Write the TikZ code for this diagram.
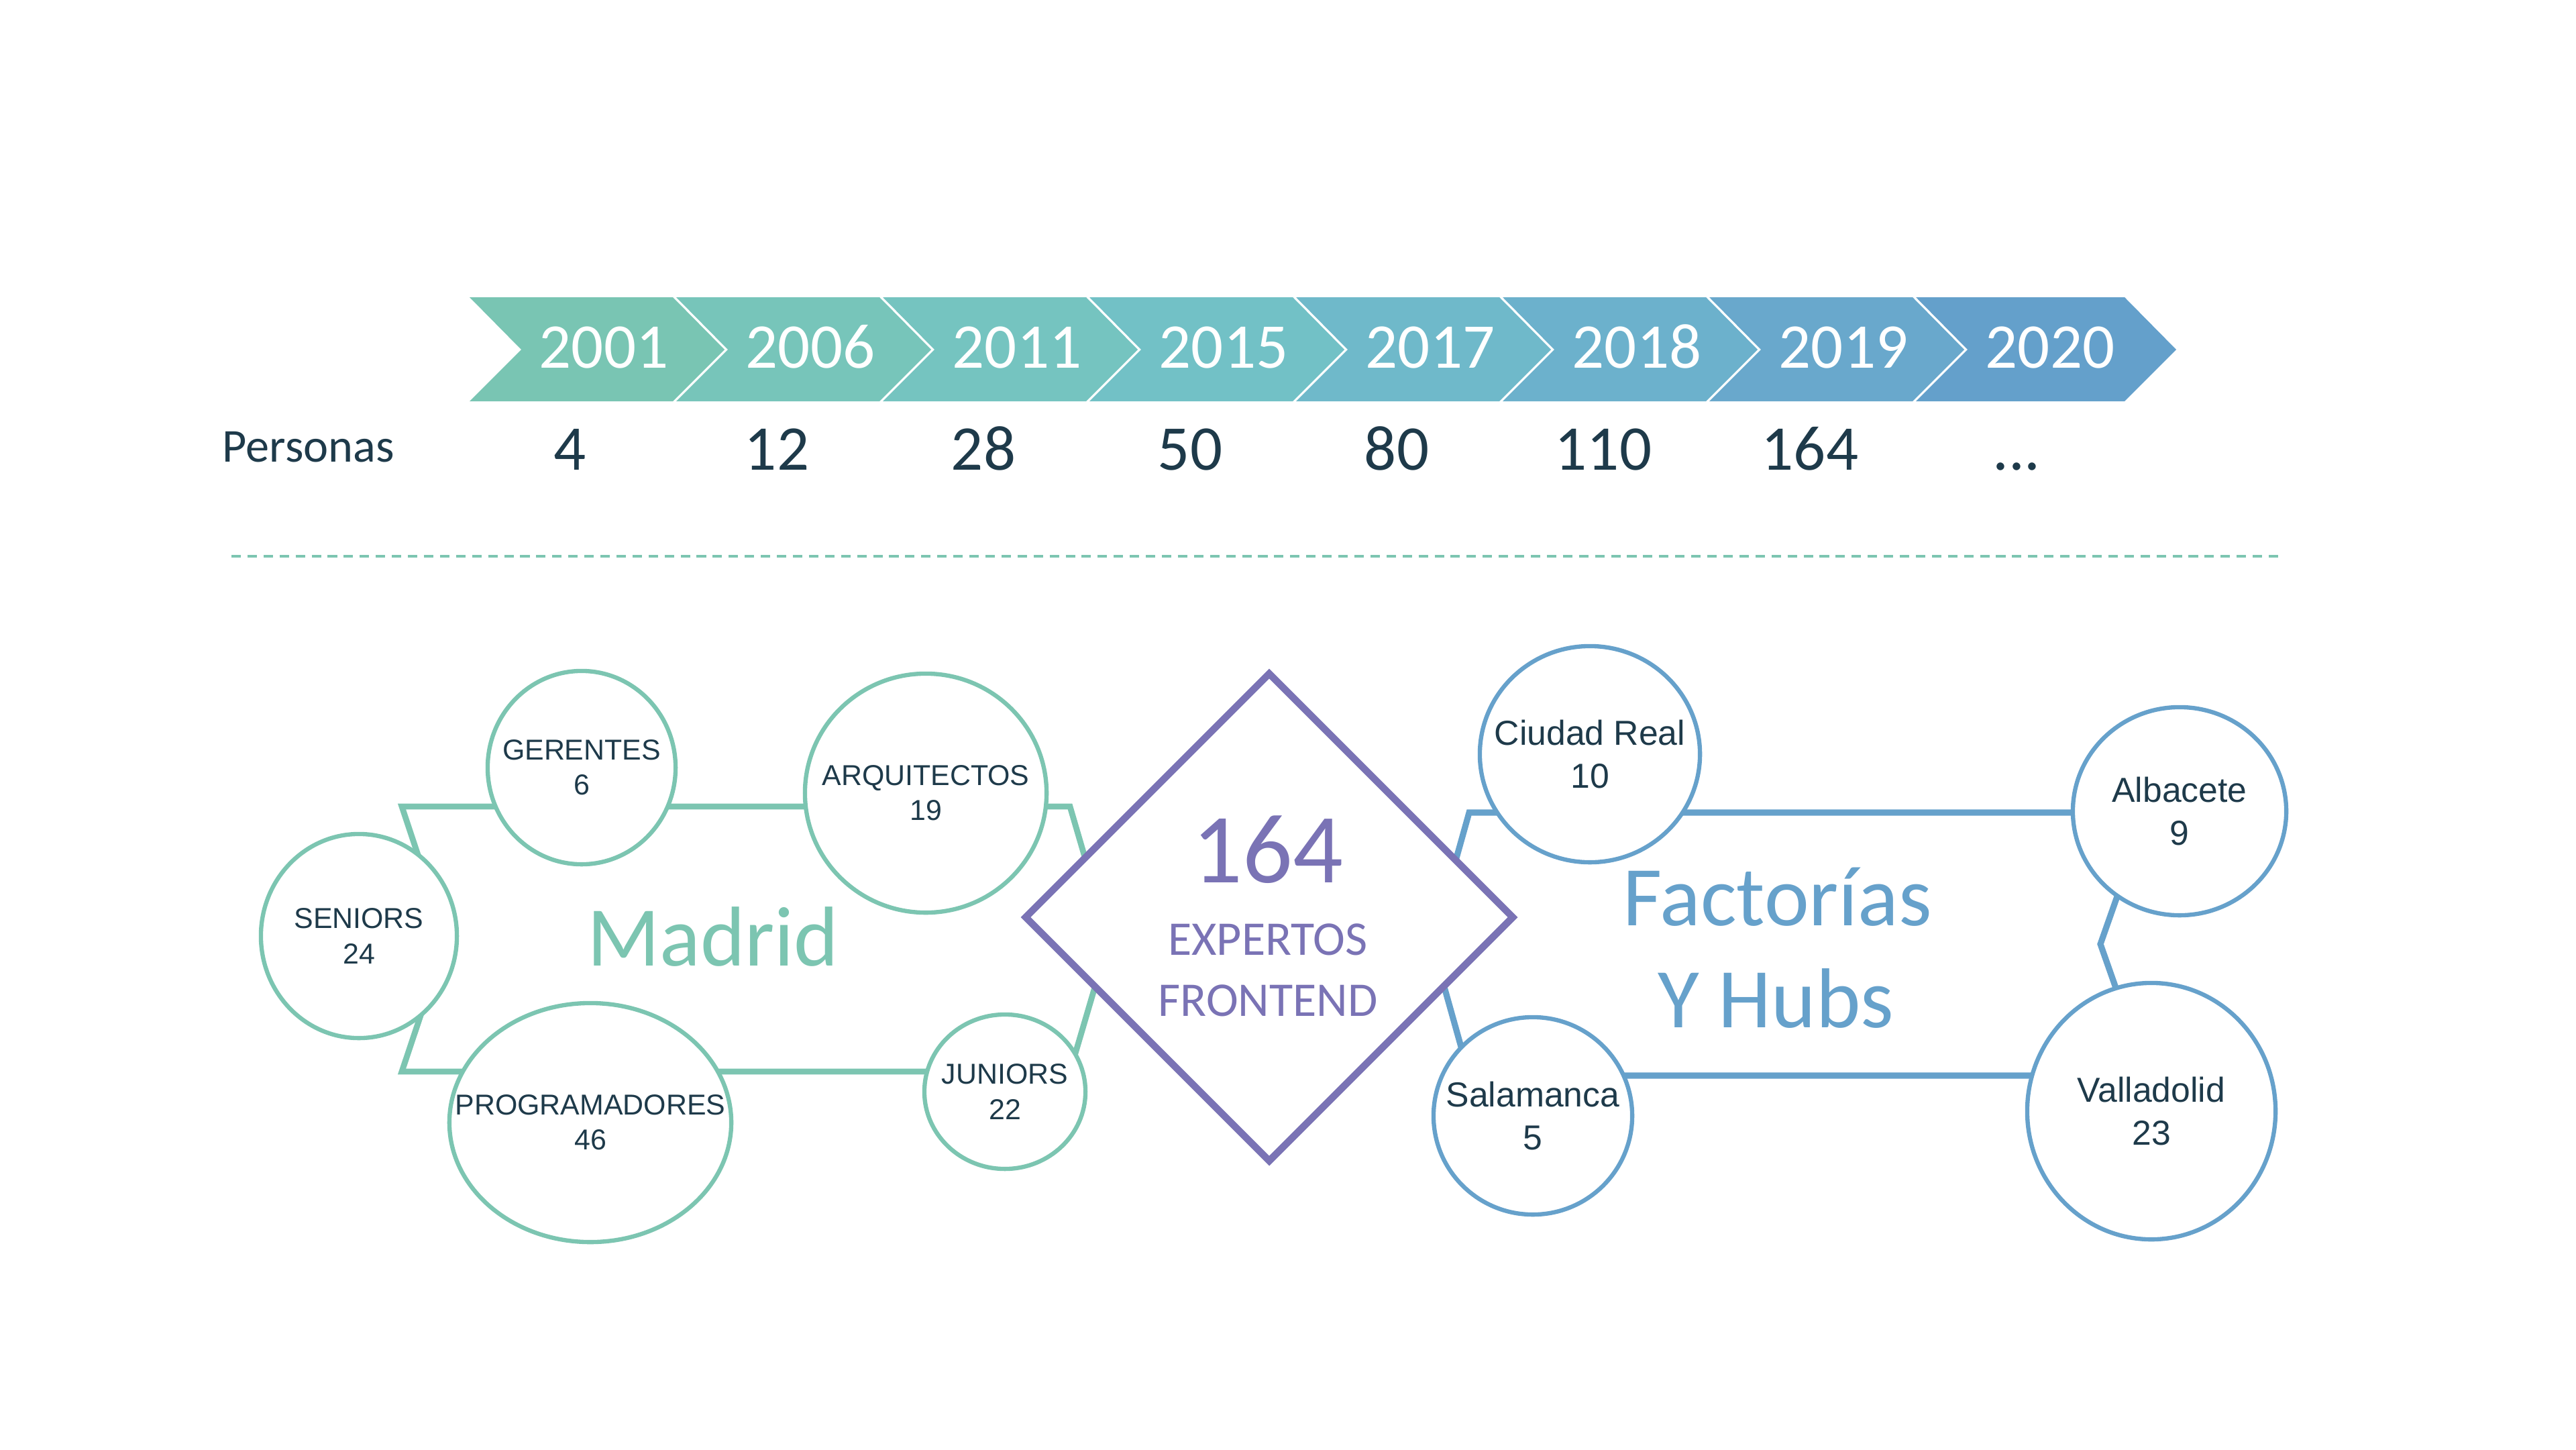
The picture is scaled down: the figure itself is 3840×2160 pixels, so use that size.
\documentclass[tikz,border=0pt]{standalone}
\usepackage{fontspec}
\setmainfont{Carlito}
\newfontfamily\arialfont{Liberation Sans}
\usetikzlibrary{shapes.geometric}
\definecolor{mteal}{HTML}{7CC5B1}
\definecolor{hblue}{HTML}{66A1CB}
\definecolor{purp}{HTML}{7A73B5}
\definecolor{navy}{HTML}{1E3A4A}
\definecolor{ch1}{RGB}{121,197,179}
\definecolor{ch2}{RGB}{119,197,186}
\definecolor{ch3}{RGB}{117,196,192}
\definecolor{ch4}{RGB}{114,193,198}
\definecolor{ch5}{RGB}{111,185,202}
\definecolor{ch6}{RGB}{108,177,204}
\definecolor{ch7}{RGB}{105,168,204}
\definecolor{ch8}{RGB}{100,160,203}
\begin{document}
\begin{tikzpicture}[x=0.01cm, y=-0.01cm,
  yearlbl/.style={text=white, font=\fontsize{27}{32}\selectfont, anchor=base, inner sep=0},
  numlbl/.style={text=navy, font=\fontsize{27}{32}\selectfont, anchor=base, inner sep=0},
  mshape/.style={draw=mteal, line width=2.5pt, line join=miter},
  hshape/.style={draw=hblue, line width=2.6pt, line join=miter},
  mcirc/.style={ellipse, draw=mteal, line width=1.8pt, fill=white, inner sep=0},
  hcirc/.style={ellipse, draw=hblue, line width=1.8pt, fill=white, inner sep=0},
  mtxt/.style={text=navy, font=\arialfont\fontsize{12.2}{14.8}\selectfont, align=center, inner sep=0},
  htxt/.style={text=navy, font=\arialfont\fontsize{14.7}{18.2}\selectfont, align=center, inner sep=0},
  septline/.style={draw=mteal, line width=1.1pt, dash pattern=on 4pt off 2.8pt},
]
\fill[white] (0,0) rectangle (3840,2160);
\useasboundingbox (0,0) rectangle (3840,2160);

% timeline chevrons
\foreach \i/\yr/\col/\w in {0/2001/ch1/303, 1/2006/ch2/303, 2/2011/ch3/303, 3/2015/ch4/303, 4/2017/ch5/303, 5/2018/ch6/303, 6/2019/ch7/303, 7/2020/ch8/311} {
  \pgfmathsetmacro{\L}{700+308*\i}
  \fill[\col] (\L,443) -- (\L+\w,443) -- (\L+\w+77,521) -- (\L+\w,598) -- (\L,598) -- (\L+77,521) -- cycle;
  \node[yearlbl] (yr\i) at (\L+200,548) {\yr};
}
\foreach \i/\num in {0/4, 1/12, 2/28, 3/50, 4/80, 5/110, 6/164} {
  \pgfmathsetmacro{\L}{700+308*\i}
  \node[numlbl] (n\i) at (\L+150,700) {\num};
}
\node[numlbl] (n7) at (3006,700) {...};
\node[text=navy, font=\fontsize{20}{24}\selectfont, anchor=base west, inner sep=0] (personas) at (331,688) {Personas};

% separator
\coordinate (sepL) at (345,829);
\coordinate (sepR) at (3398,829);
\draw[septline] (sepL) -- (sepR);

% Madrid shape
\draw[mshape] (599,1202) -- (1595,1202) -- (1653,1400) -- (1595,1597) -- (599,1597) -- (665,1400) -- cycle;
% Factorias shape
\draw[hshape] (2190,1211) -- (3200,1211) -- (3131,1407) -- (3200,1603) -- (2190,1603) -- (2135,1407) -- cycle;

% diamond
\node[diamond, draw=purp, line width=3pt, fill=white, minimum width=7.30cm, minimum height=7.30cm, aspect=1, inner sep=0] (dia) at (1892,1367) {};
\node[text=purp, font=\fontsize{42}{50}\selectfont, anchor=base, inner sep=0] (n164) at (1890,1315) {164};
\node[text=purp, font=\fontsize{20.5}{25}\selectfont, anchor=base, inner sep=0] (exp) at (1890,1423) {EXPERTOS};
\node[text=purp, font=\fontsize{20.5}{25}\selectfont, anchor=base, inner sep=0] (fro) at (1890,1514) {FRONTEND};

% region labels
\node[text=mteal, font=\fontsize{36}{43}\selectfont, anchor=base, inner sep=0] (madrid) at (1063,1439) {Madrid};
\node[text=hblue, font=\fontsize{36}{43}\selectfont, anchor=base, inner sep=0] (fact) at (2650,1379) {Factorías};
\node[text=hblue, font=\fontsize{36}{43}\selectfont, anchor=base, inner sep=0] (hubs) at (2647,1531) {Y Hubs};

% Madrid circles
\node[mcirc, minimum width=2.80cm, minimum height=2.88cm] (ger) at (867,1144) {};
\node[mtxt] (ger-t) at (ger.center) {GERENTES\\6};
\node[mcirc, minimum width=3.60cm, minimum height=3.56cm] (arq) at (1380,1182) {};
\node[mtxt] (arq-t) at (arq.center) {ARQUITECTOS\\19};
\node[mcirc, minimum width=2.92cm, minimum height=3.04cm] (sen) at (535,1395) {};
\node[mtxt] (sen-t) at (sen.center) {SENIORS\\24};
\node[mcirc, minimum width=4.20cm, minimum height=3.56cm] (prog) at (880,1673) {};
\node[mtxt] (prog-t) at (prog.center) {PROGRAMADORES\\46};
\node[mcirc, minimum width=2.40cm, minimum height=2.30cm] (jun) at (1498,1627) {};
\node[mtxt] (jun-t) at (jun.center) {JUNIORS\\22};

% Factorias circles
\node[hcirc, minimum width=3.28cm, minimum height=3.22cm] (ciu) at (2370,1124) {};
\node[htxt] (ciu-t) at (ciu.center) {Ciudad Real\\10};
\node[hcirc, minimum width=3.18cm, minimum height=3.10cm] (alb) at (3249,1209) {};
\node[htxt] (alb-t) at (alb.center) {Albacete\\9};
\node[hcirc, minimum width=2.96cm, minimum height=2.94cm] (sal) at (2285,1663) {};
\node[htxt] (sal-t) at (sal.center) {Salamanca\\5};
\node[hcirc, minimum width=3.70cm, minimum height=3.82cm] (val) at (3207,1656) {};
\node[htxt] (val-t) at (val.center) {Valladolid\\23};
\end{tikzpicture}
\end{document}
